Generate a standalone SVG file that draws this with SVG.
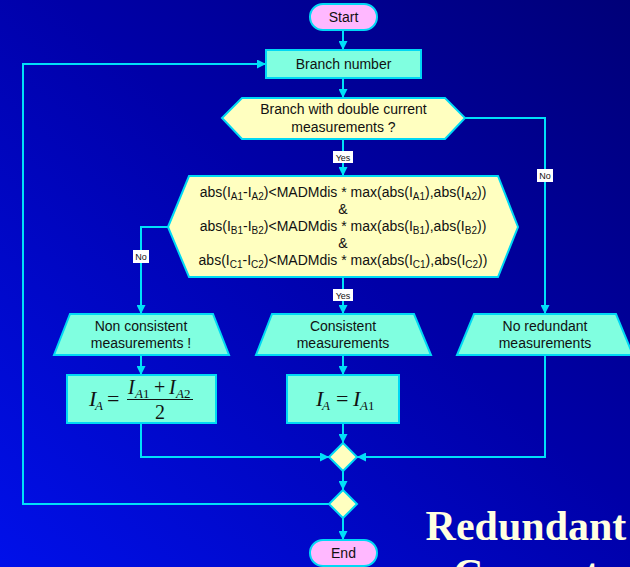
<svg xmlns="http://www.w3.org/2000/svg" width="630" height="567" viewBox="0 0 630 567">
  <defs>
    <linearGradient id="bg" x1="0" y1="1" x2="1" y2="0">
      <stop offset="0" stop-color="#0010EA"/>
      <stop offset="0.55" stop-color="#0000A8"/>
      <stop offset="1" stop-color="#000078"/>
    </linearGradient>
    <marker id="arr" viewBox="0 0 10 10" refX="10" refY="5" markerWidth="9" markerHeight="9" markerUnits="userSpaceOnUse" orient="auto">
      <path d="M0,0 L10,5 L0,10 z" fill="#00E0F8"/>
    </marker>
    <style>
      .sh { stroke: #00D8F4; stroke-width: 2; }
      .term { fill: #FFB8FF; }
      .proc { fill: #80FFE0; }
      .dec { fill: #FFFFC0; }
      .t { font-family: "Liberation Sans", Arial, sans-serif; font-size: 14px; fill: #111; text-anchor: middle; }
      .eq { font-family: "Liberation Serif", "Times New Roman", serif; fill: #111; }
      .it { font-style: italic; }
      .lbl { font-family: "Liberation Sans", Arial, sans-serif; font-size: 9px; fill: #111; text-anchor: middle; }
      .lblbox { fill: #FFFFFF; }
      .cn { fill: none; stroke: #00E0F8; stroke-width: 2; }
      .title { font-family: "Liberation Serif", "Times New Roman", serif; font-weight: bold; font-size: 42px; fill: #FFFFE0; text-anchor: middle; }
    </style>
  </defs>

  <rect x="0" y="0" width="630" height="567" fill="url(#bg)"/>

  <!-- connectors -->
  <g id="connectors">
    <path class="cn" d="M343,30 L343,50" marker-end="url(#arr)"/>
    <path class="cn" d="M343,78 L343,98" marker-end="url(#arr)"/>
    <path class="cn" d="M343,139 L343,176" marker-end="url(#arr)"/>
    <path class="cn" d="M465,118 L545,118 L545,314" marker-end="url(#arr)"/>
    <path class="cn" d="M168,227 L141,227 L141,314" marker-end="url(#arr)"/>
    <path class="cn" d="M343,277 L343,314" marker-end="url(#arr)"/>
    <path class="cn" d="M141,355 L141,375" marker-end="url(#arr)"/>
    <path class="cn" d="M343,355 L343,375" marker-end="url(#arr)"/>
    <path class="cn" d="M141,423 L141,457 L329,457" marker-end="url(#arr)"/>
    <path class="cn" d="M343,423 L343,443" marker-end="url(#arr)"/>
    <path class="cn" d="M545,355 L545,457 L357,457" marker-end="url(#arr)"/>
    <path class="cn" d="M343,471 L343,490" marker-end="url(#arr)"/>
    <path class="cn" d="M329,504 L23,504 L23,64 L266,64" marker-end="url(#arr)"/>
    <path class="cn" d="M343,518 L343,540" marker-end="url(#arr)"/>

    <g id="label-yes-1">
      <rect class="lblbox" x="333" y="151" width="20" height="12"/>
      <text class="lbl" x="343" y="160.5">Yes</text>
    </g>
    <g id="label-no-right">
      <rect class="lblbox" x="537" y="169" width="16" height="13"/>
      <text class="lbl" x="545" y="179">No</text>
    </g>
    <g id="label-no-left">
      <rect class="lblbox" x="133" y="250" width="16" height="13"/>
      <text class="lbl" x="141" y="260">No</text>
    </g>
    <g id="label-yes-2">
      <rect class="lblbox" x="333" y="289" width="20" height="12"/>
      <text class="lbl" x="343" y="298.5">Yes</text>
    </g>
  </g>

  <!-- nodes -->
  <g id="start">
    <rect class="sh term" x="310" y="4" width="67" height="26" rx="13"/>
    <text class="t" x="343.5" y="22">Start</text>
  </g>

  <g id="branch-number">
    <rect class="sh proc" x="266" y="50" width="155" height="28"/>
    <text class="t" x="343.5" y="69">Branch number</text>
  </g>

  <g id="double-measurements">
    <polygon class="sh dec" points="222,118 242,98 445,98 465,118 445,139 242,139"/>
    <text class="t" x="343.5" y="114">Branch with double current</text>
    <text class="t" x="343.5" y="132">measurements ?</text>
  </g>

  <g id="consistency-check">
    <polygon class="sh dec" points="168,227 189,176 498,176 518,227 498,277 189,277"/>
    <text class="t" x="343" y="197">abs(I<tspan font-size="10" dy="3">A1</tspan><tspan dy="-3">-I</tspan><tspan font-size="10" dy="3">A2</tspan><tspan dy="-3">)&lt;MADMdis * max(abs(I</tspan><tspan font-size="10" dy="3">A1</tspan><tspan dy="-3">),abs(I</tspan><tspan font-size="10" dy="3">A2</tspan><tspan dy="-3">))</tspan></text>
    <text class="t" x="343" y="214">&amp;</text>
    <text class="t" x="343" y="231">abs(I<tspan font-size="10" dy="3">B1</tspan><tspan dy="-3">-I</tspan><tspan font-size="10" dy="3">B2</tspan><tspan dy="-3">)&lt;MADMdis * max(abs(I</tspan><tspan font-size="10" dy="3">B1</tspan><tspan dy="-3">),abs(I</tspan><tspan font-size="10" dy="3">B2</tspan><tspan dy="-3">))</tspan></text>
    <text class="t" x="343" y="248">&amp;</text>
    <text class="t" x="343" y="265">abs(I<tspan font-size="10" dy="3">C1</tspan><tspan dy="-3">-I</tspan><tspan font-size="10" dy="3">C2</tspan><tspan dy="-3">)&lt;MADMdis * max(abs(I</tspan><tspan font-size="10" dy="3">C1</tspan><tspan dy="-3">),abs(I</tspan><tspan font-size="10" dy="3">C2</tspan><tspan dy="-3">))</tspan></text>
  </g>

  <g id="non-consistent">
    <polygon class="sh proc" points="70,314 213,314 229,355 54,355"/>
    <text class="t" x="141" y="331">Non consistent</text>
    <text class="t" x="141" y="348">measurements !</text>
  </g>

  <g id="consistent">
    <polygon class="sh proc" points="272,314 414,314 431,355 256,355"/>
    <text class="t" x="343" y="331">Consistent</text>
    <text class="t" x="343" y="348">measurements</text>
  </g>

  <g id="no-redundant">
    <polygon class="sh proc" points="474,314 616,314 633,355 457,355"/>
    <text class="t" x="545" y="331">No redundant</text>
    <text class="t" x="545" y="348">measurements</text>
  </g>

  <g id="mean-value">
    <rect class="sh proc" x="67" y="375" width="149" height="48"/>
    <text class="eq it" x="89" y="406" font-size="22">I</text>
    <text class="eq it" x="95" y="410" font-size="13">A</text>
    <text class="eq" x="107" y="406" font-size="22">=</text>
    <text class="eq it" x="128" y="394" font-size="20">I</text>
    <text class="eq" x="135" y="398" font-size="13"><tspan font-style="italic">A</tspan>1</text>
    <text class="eq" x="154" y="394" font-size="20">+</text>
    <text class="eq it" x="169" y="394" font-size="20">I</text>
    <text class="eq" x="176" y="398" font-size="13"><tspan font-style="italic">A</tspan>2</text>
    <line x1="127" y1="399.5" x2="193" y2="399.5" stroke="#111" stroke-width="1"/>
    <text class="eq" x="160" y="419" font-size="20" text-anchor="middle">2</text>
  </g>

  <g id="single-value">
    <rect class="sh proc" x="287" y="375" width="112" height="48"/>
    <text class="eq it" x="316" y="406" font-size="22">I</text>
    <text class="eq it" x="322" y="410" font-size="13">A</text>
    <text class="eq" x="336" y="406" font-size="22">=</text>
    <text class="eq it" x="353" y="406" font-size="22">I</text>
    <text class="eq" x="360" y="410" font-size="13"><tspan font-style="italic">A</tspan>1</text>
  </g>

  <g id="merge-1">
    <polygon class="sh dec" points="343,443 357,457 343,471 329,457"/>
  </g>

  <g id="merge-2">
    <polygon class="sh dec" points="343,490 357,504 343,518 329,504"/>
  </g>

  <g id="end">
    <rect class="sh term" x="310" y="540" width="67" height="26" rx="13"/>
    <text class="t" x="343.5" y="558">End</text>
  </g>

  <g id="title">
    <text class="title" x="526" y="540">Redundant</text>
    <text class="title" x="526" y="588">Current</text>
  </g>
</svg>
